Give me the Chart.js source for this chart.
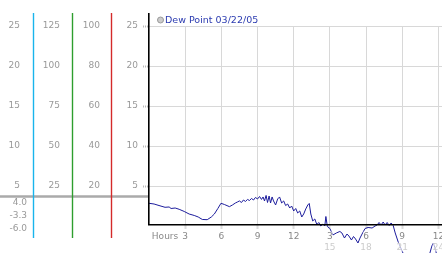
<!DOCTYPE html>
<html>
<head>
<meta charset="utf-8">
<script src="https://cdn.jsdelivr.net/npm/chart.js@4.4.1/dist/chart.umd.min.js"></script>
<style>
  html, body { margin: 0; padding: 0; background: #fff; }
</style>
</head>
<body>
<canvas id="dewChart" width="442" height="253"></canvas>
<script>
// hours since midnight and dew point readings
const hours = [0, 0.42, 0.83, 1.33, 1.67, 1.83, 2.17, 2.5, 2.92, 3.33,
  3.75, 4.08, 4.42, 4.83, 5.17, 5.42, 5.71, 5.97, 6.25, 6.67,
  6.92, 7.17, 7.33, 7.5, 7.67, 7.83, 8.0, 8.17, 8.33, 8.5,
  8.67, 8.83, 9.0, 9.17, 9.33, 9.46, 9.58, 9.71, 9.83, 9.96,
  10.08, 10.21, 10.33, 10.5, 10.67, 10.83, 11.0, 11.17, 11.33, 11.5,
  11.67, 11.83, 12.0, 12.17, 12.33, 12.5, 12.67, 12.83, 13.0, 13.17,
  13.29, 13.42, 13.58, 13.75, 13.92, 14.08, 14.25, 14.42, 14.58, 14.67,
  14.79, 15.0, 15.25, 15.54, 15.83, 16.0, 16.21, 16.42, 16.58, 16.79,
  16.96, 17.13, 17.33, 17.5, 17.67, 17.92, 18.17, 18.5, 18.75, 18.92,
  19.08, 19.25, 19.42, 19.58, 19.75, 19.92, 20.08, 20.25, 20.42, 20.67,
  20.92, 21.17, 21.5, 22.08, 22.5, 22.92, 23.25, 23.46, 23.58, 23.75,
  23.92, 24.17];
const dewPoint = [2.85, 2.76, 2.57, 2.35, 2.39, 2.2, 2.26, 2.1, 1.83, 1.51,
  1.33, 1.14, 0.83, 0.8, 1.14, 1.51, 2.2, 2.85, 2.7, 2.43,
  2.64, 2.89, 3.01, 3.14, 2.95, 3.26, 3.08, 3.33, 3.2, 3.45,
  3.26, 3.58, 3.39, 3.7, 3.33, 3.64, 3.14, 3.83, 2.95, 3.76,
  2.89, 3.64, 3.14, 2.64, 3.39, 3.64, 2.89, 3.14, 2.57, 2.76,
  2.26, 2.51, 1.89, 2.2, 1.64, 1.89, 1.14, 1.51, 2.14, 2.64,
  2.83, 1.51, 0.64, 0.89, 0.2, 0.45, 0.01, 0.26, 0.01, 1.2,
  -0.05, -0.3, -1.11, -0.86, -0.67, -0.86, -1.49, -0.99, -1.24, -1.74,
  -1.3, -1.61, -2.11, -1.49, -0.99, -0.3, -0.17, -0.24, 0.01, 0.14,
  0.45, 0.14, 0.51, 0.14, 0.45, 0.08, 0.39, 0.08, -0.86, -1.99,
  -2.86, -3.74, -4.6, -5.24, -6.0, -5.49, -3.61, -2.49, -2.11, -2.86,
  -3.99, -4.49];

const seriesLabel = 'Dew Point 03/22/05';

// x axis ticks
const hourTicks = [3, 6, 9, 12, 15, 18, 21, 24];
const hourLabels = ['3', '6', '9', '12', '3', '6', '9', '12'];
const hoursTitleAt = 1.33;
const secondDayTicks = [15, 18, 21, 24];
const secondDayLabels = ['15', '18', '21', '24'];

// left hand columns: tick values of the main column and each column's factor
const mainTicks = [5, 10, 15, 20, 25];
const columnFactors = { yCyan: 1, yGreen: 5, yRed: 4 };
const columnColors = { yCyan: '#19b4ec', yGreen: '#2e9e2e', yRed: '#d42a2a' };
const yMin = 0.2, yMax = 25;
const xMin = 0, xMax = 24.3;

// summary values under the first column, and the grey marker line
const summaryLabels = ['4.0', '-3.3', '-6.0'];
const markerValue = 3.7;

Chart.defaults.font.family = "'DejaVu Sans', Verdana, sans-serif";
Chart.defaults.font.size = 9;

function noPad(scale) {
  scale.paddingLeft = 0; scale.paddingRight = 0;
  scale.paddingTop = 0; scale.paddingBottom = 0;
}

function sideColumn(id, weight, width, pad) {
  const f = columnFactors[id];
  return {
    type: 'linear', position: 'left', weight: weight,
    min: yMin * f, max: yMax * f,
    grid: { display: false, drawTicks: false },
    border: { display: false },
    ticks: { color: '#999', padding: pad },
    afterBuildTicks: s => { s.ticks = mainTicks.map(v => ({ value: v * f })); },
    afterFit: s => { s.width = width; noPad(s); }
  };
}

const sideDecor = {
  id: 'sideDecor',
  afterDraw(chart) {
    const { ctx, chartArea, scales } = chart;
    ctx.save();
    // grey marker line across the axis columns
    const gy = scales.y.getPixelForValue(markerValue);
    ctx.strokeStyle = '#aaa';
    ctx.lineWidth = 2.5;
    ctx.beginPath();
    ctx.moveTo(0, gy);
    ctx.lineTo(chartArea.left, gy);
    ctx.stroke();

    // coloured column lines
    ctx.lineWidth = 1.4;
    Object.keys(columnColors).forEach(id => {
      const x = Math.round(scales[id].right) + 0.5;
      ctx.strokeStyle = columnColors[id];
      ctx.beginPath();
      ctx.moveTo(x, 13);
      ctx.lineTo(x, 238);
      ctx.stroke();
    });

    // black value axis
    ctx.strokeStyle = '#000';
    ctx.lineWidth = 1.6;
    ctx.beginPath();
    ctx.moveTo(chartArea.left - 0.2, 13);
    ctx.lineTo(chartArea.left - 0.2, chartArea.bottom);
    ctx.stroke();

    // summary numbers
    ctx.fillStyle = '#999';
    ctx.font = "9px 'DejaVu Sans'";
    ctx.textAlign = 'right';
    ctx.textBaseline = 'middle';
    summaryLabels.forEach((t, i) => ctx.fillText(t, 27, 203 + i * 13));

    // legend
    ctx.beginPath();
    ctx.arc(160.5, 20, 3, 0, Math.PI * 2);
    ctx.fillStyle = '#ccc';
    ctx.fill();
    ctx.strokeStyle = '#999';
    ctx.lineWidth = 1;
    ctx.stroke();
    ctx.fillStyle = '#2b3bb0';
    ctx.textAlign = 'left';
    ctx.font = "9.5px 'DejaVu Sans'";
    ctx.fillText(seriesLabel, 165, 20.5);
    ctx.restore();
  }
};

const xTickValues = [hoursTitleAt].concat(hourTicks);
const xTickLabels = ['Hours'].concat(hourLabels);

new Chart(document.getElementById('dewChart'), {
  type: 'line',
  data: {
    datasets: [{
      label: seriesLabel,
      data: hours.map((h, i) => ({ x: h, y: dewPoint[i] })),
      borderColor: '#1c1c9c',
      borderWidth: 1,
      pointRadius: 0,
      tension: 0,
      clip: false,
      xAxisID: 'x',
      yAxisID: 'y'
    }]
  },
  options: {
    responsive: false,
    animation: false,
    events: [],
    layout: { padding: { top: 26, right: 0, bottom: 1.5, left: 0 } },
    plugins: { legend: { display: false }, tooltip: { enabled: false } },
    scales: {
      x: {
        type: 'linear', position: 'bottom', weight: 0,
        min: xMin, max: xMax,
        grid: {
          color: c => (c.tick && c.tick.value === hoursTitleAt) ? 'rgba(0,0,0,0)' : '#d8d8d8',
          tickColor: c => (c.tick && c.tick.value === hoursTitleAt) ? 'rgba(0,0,0,0)' : '#bbb',
          tickLength: 5, tickWidth: 2, tickBorderDash: [1, 1]
        },
        border: { color: '#000', width: 1.5, z: 1 },
        ticks: {
          color: '#888', padding: 2, maxRotation: 0, autoSkip: false, z: 1,
          showLabelBackdrop: true, backdropColor: 'rgba(255,255,255,0.65)', backdropPadding: 0,
          callback: (v, i) => xTickLabels[i]
        },
        afterBuildTicks: s => { s.ticks = xTickValues.map(v => ({ value: v })); },
        afterFit: s => { s.height = 17; noPad(s); }
      },
      x2: {
        type: 'linear', position: 'bottom', weight: 1,
        min: xMin, max: xMax,
        grid: { display: false, drawTicks: false },
        border: { display: false },
        ticks: {
          color: '#ccc', padding: 1, maxRotation: 0, autoSkip: false, z: 1,
          showLabelBackdrop: true, backdropColor: 'rgba(255,255,255,0.65)', backdropPadding: 0,
          callback: (v, i) => secondDayLabels[i]
        },
        afterBuildTicks: s => { s.ticks = secondDayTicks.map(v => ({ value: v })); },
        afterFit: s => { s.height = 10; noPad(s); }
      },
      y: {
        type: 'linear', position: 'left', weight: 0,
        min: yMin, max: yMax,
        grid: { color: '#d8d8d8', tickColor: '#bbb', tickLength: 6, tickWidth: 2, tickBorderDash: [1, 1] },
        border: { display: false },
        ticks: { color: '#999', padding: 5 },
        afterBuildTicks: s => { s.ticks = mainTicks.map(v => ({ value: v })); },
        afterFit: s => { s.width = 38; noPad(s); }
      },
      yRed: sideColumn('yRed', 1, 39, 11),
      yGreen: sideColumn('yGreen', 2, 39, 12),
      yCyan: sideColumn('yCyan', 3, 33, 13)
    }
  },
  plugins: [sideDecor]
});
</script>
</body>
</html>
